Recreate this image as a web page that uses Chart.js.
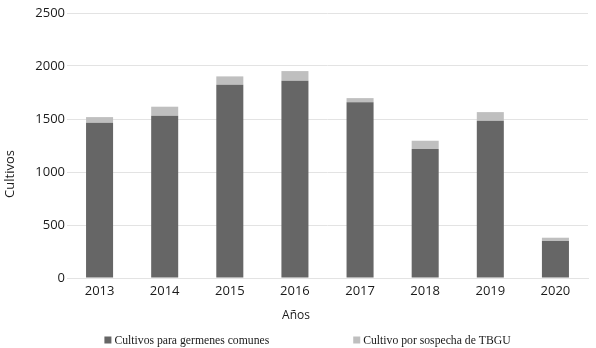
<!DOCTYPE html>
<html>
<head>
<meta charset="utf-8">
<script src="https://cdn.jsdelivr.net/npm/chart.js@4/dist/chart.umd.min.js"></script>
<style>
  html, body { margin: 0; padding: 0; background: #ffffff; }
  #wrap { width: 596px; height: 348px; position: relative; }
</style>
</head>
<body>
<div id="wrap"><canvas id="c" width="596" height="348"></canvas></div>
<script>
const categories = ['2013', '2014', '2015', '2016', '2017', '2018', '2019', '2020'];
const seriesNames = ['Cultivos para germenes comunes', 'Cultivo por sospecha de TBGU'];
const comunes = [1465, 1531, 1823, 1861, 1657, 1217, 1484, 349];
const tbgu = [53, 85, 79, 91, 40, 78, 81, 31];
const yTicks = [0, 500, 1000, 1500, 2000, 2500];
const xTitle = 'Años';
const yTitle = 'Cultivos';

const sansFont = "'Open Sans', 'DejaVu Sans', sans-serif";
const serifFont = "'Liberation Serif', 'DejaVu Serif', serif";

const titlesAndLegend = {
  id: 'titlesAndLegend',
  afterDraw(chart) {
    const ctx = chart.ctx;
    ctx.save();
    // y axis title
    ctx.fillStyle = '#1a1a1a';
    ctx.font = '13px ' + sansFont;
    ctx.textAlign = 'center';
    ctx.textBaseline = 'middle';
    ctx.save();
    ctx.translate(10.5, 174);
    ctx.rotate(-Math.PI / 2);
    ctx.fillText(yTitle, 0, 0);
    ctx.restore();
    // x axis title
    ctx.font = '12px ' + sansFont;
    ctx.fillText(xTitle, 296, 316);
    // legend
    ctx.font = '11.7px ' + serifFont;
    const box = 7, gapText = 3, gapItem = 84;
    const ds = chart.data.datasets;
    const widths = ds.map(d => ctx.measureText(d.label).width);
    let total = 0;
    widths.forEach((w, i) => { total += box + gapText + w + (i < widths.length - 1 ? gapItem : 0); });
    let x = 307.5 - total / 2;
    const y = 340;
    ctx.textAlign = 'left';
    ds.forEach((d, i) => {
      ctx.fillStyle = d.backgroundColor;
      ctx.fillRect(x, y - box / 2, box, box);
      ctx.fillStyle = '#1a1a1a';
      ctx.fillText(d.label, x + box + gapText, y + 0.5);
      x += box + gapText + widths[i] + gapItem;
    });
    ctx.restore();
  }
};

new Chart(document.getElementById('c'), {
  type: 'bar',
  data: {
    labels: categories,
    datasets: [
      { label: seriesNames[0], data: comunes, backgroundColor: '#666666', borderWidth: 0 },
      { label: seriesNames[1], data: tbgu, backgroundColor: '#bfbfbf', borderWidth: 0 }
    ]
  },
  options: {
    responsive: false,
    animation: false,
    devicePixelRatio: 1,
    layout: { padding: { left: 34, right: 8, top: 13, bottom: 50 } },
    plugins: {
      legend: { display: false },
      tooltip: { enabled: false },
      title: { display: false }
    },
    datasets: {
      bar: { barPercentage: 0.415, categoryPercentage: 1.0 }
    },
    scales: {
      x: {
        stacked: true,
        grid: { display: false, drawTicks: false },
        border: { display: true, color: '#e3e3e3', width: 1 },
        ticks: { color: '#1a1a1a', font: { family: sansFont, size: 13 }, padding: 5, maxRotation: 0 },
        afterFit(scale) { scale.height = 20; }
      },
      y: {
        stacked: true,
        min: 0,
        max: 2500,
        afterBuildTicks(scale) { scale.ticks = yTicks.map(v => ({ value: v })); },
        grid: { color: '#e3e3e3', lineWidth: 1, drawTicks: false },
        border: { display: false },
        ticks: { color: '#1a1a1a', font: { family: sansFont, size: 13 }, padding: 2, callback: v => String(v) },
        afterFit(scale) { scale.width = 33; }
      }
    }
  },
  plugins: [titlesAndLegend]
});
</script>
</body>
</html>
